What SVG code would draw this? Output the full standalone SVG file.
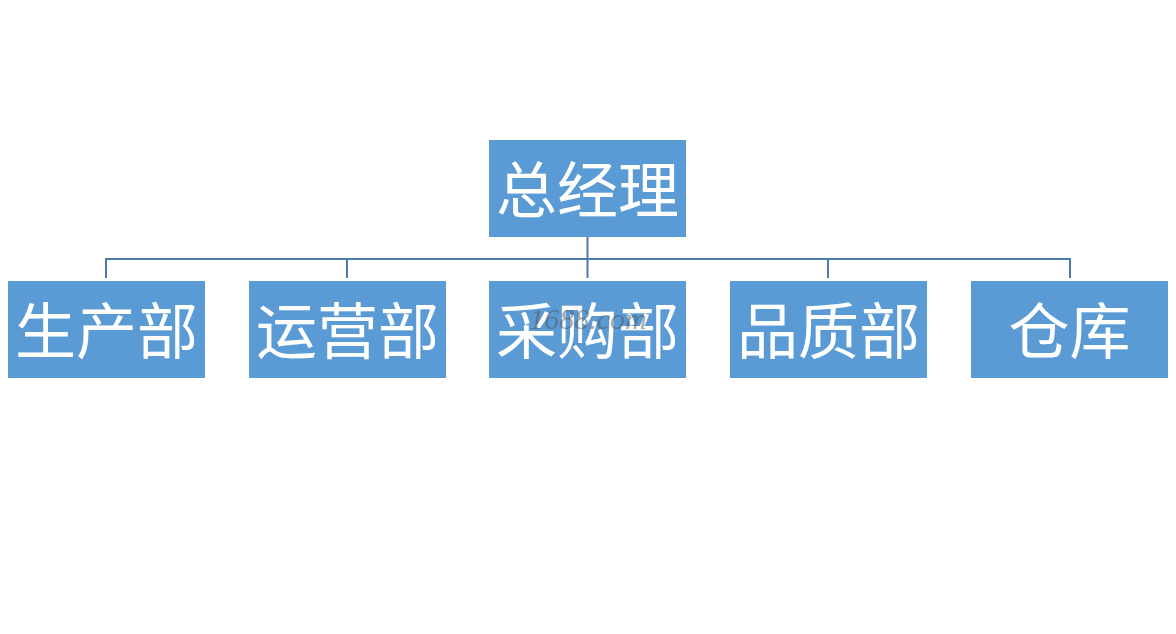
<svg xmlns="http://www.w3.org/2000/svg" width="1176" height="634" viewBox="0 0 1176 634">
<style>
.box{fill:#5b9bd5}
.lbl{font-family:"Noto Sans CJK SC","Noto Sans CJK TC",sans-serif;font-size:61px;fill:#ffffff;text-anchor:middle;dominant-baseline:central}
.conn{stroke:#4a7bab;stroke-width:2;fill:none}
.wm{font-family:"Liberation Serif",serif;font-style:italic;font-size:30px;fill:#555555;fill-opacity:0.5;text-anchor:middle}
</style>
<rect width="1176" height="634" fill="#ffffff"/>
<g id="connectors">
<path class="conn" d="M587.5 237V278M106 278V259H1070V278M347 259V278M828 259V278"/>
</g>
<g id="n0"><rect class="box" x="489" y="140" width="197" height="97"/><text class="lbl" x="587.5" y="186">总经理</text></g>
<g id="n1"><rect class="box" x="8" y="281" width="197" height="97"/><text class="lbl" x="106.5" y="327">生产部</text></g>
<g id="n2"><rect class="box" x="249" y="281" width="197" height="97"/><text class="lbl" x="347.5" y="327">运营部</text></g>
<g id="n3"><rect class="box" x="489" y="281" width="197" height="97"/><text class="lbl" x="587.5" y="327">采购部</text></g>
<g id="n4"><rect class="box" x="730" y="281" width="197" height="97"/><text class="lbl" x="828.5" y="327">品质部</text></g>
<g id="n5"><rect class="box" x="971" y="281" width="197" height="97"/><text class="lbl" x="1069.5" y="327">仓库</text></g>
<text class="wm" x="588" y="329">1688.com</text>
</svg>
